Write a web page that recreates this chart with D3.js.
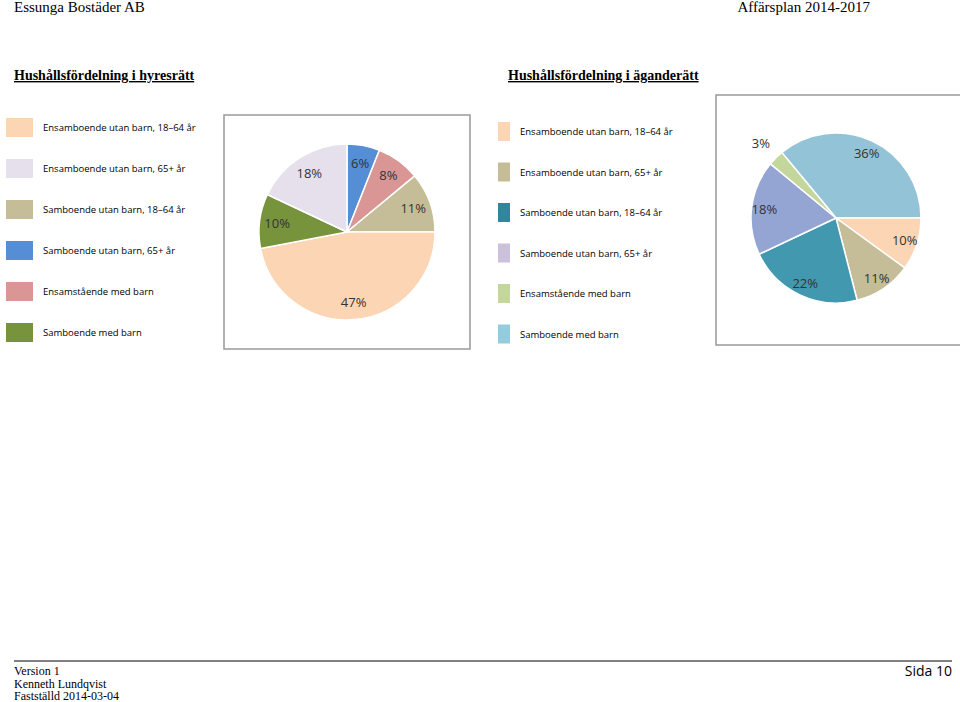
<!DOCTYPE html><html><head><meta charset="utf-8"><script src="https://cdn.jsdelivr.net/npm/d3@7"></script>
<style>body{margin:0;background:#fff}</style></head><body><svg id="c" width="960" height="702"></svg>
<script>
const leftCats=["Ensamboende utan barn, 18\u201364 år","Ensamboende utan barn, 65+ år","Samboende utan barn, 18\u201364 år","Samboende utan barn, 65+ år","Ensamstående med barn","Samboende med barn"];
const leftValues=[47,18,11,6,8,10];
const leftColors=["#FCD5B5","#E6E0EC","#C4BD97","#558ED5","#D99694","#77933C"];
const leftOrder=[3,4,2,0,5,1];
const rightCats=leftCats;
const rightValues=[10,11,22,18,3,36];
const rightColors=["#FCD5B5","#C4BD97","#31859C","#CCC1DA","#C3D69B","#93CDDD"];
const rightPieColors=["#FCD5B5","#C4BD97","#4198AF","#95A5D3","#C3D69B","#93C3D6"];
const rightOrder=[5,0,1,2,3,4];
const svg=d3.select("#c");
const T="'Liberation Serif',serif", S="'Open Sans','Liberation Sans',sans-serif";
svg.append("text").attr("x",14).attr("y",12).attr("font-family",T).attr("font-size",15).text("Essunga Bostäder AB");
svg.append("text").attr("x",870).attr("y",12).attr("text-anchor","end").attr("font-family",T).attr("font-size",15).text("Affärsplan 2014-2017");
svg.append("text").attr("x",14).attr("y",80).attr("font-family",T).attr("font-size",14).attr("font-weight","bold").attr("text-decoration","underline").text("Hushållsfördelning i hyresrätt");
svg.append("text").attr("x",508).attr("y",80).attr("font-family",T).attr("font-size",14).attr("font-weight","bold").attr("text-decoration","underline").text("Hushållsfördelning i äganderätt");
function legend(x,y0,step,cats,cols,sw){cats.forEach((c,i)=>{const y=y0+i*step;
 svg.append("rect").attr("x",x).attr("y",y-9).attr("width",sw).attr("height",19).attr("fill",cols[i]);
 svg.append("text").attr("x",x+sw+10).attr("y",y+4).attr("font-family",S).attr("font-size",9.5).text(c);});}
legend(6,127,41,leftCats,leftColors,27);
legend(498,131,40.5,rightCats,rightColors,12);
svg.append("rect").attr("x",224).attr("y",115).attr("width",246).attr("height",234).attr("fill","none").attr("stroke","#999").attr("stroke-width",1.5);
svg.append("rect").attr("x",716).attr("y",95).attr("width",246).attr("height",250).attr("fill","none").attr("stroke","#999").attr("stroke-width",1.5);
function pie(cx,cy,r,vals,cols,order,start,lf){
 const data=order.map(i=>({v:vals[i],c:cols[i]}));
 const arcs=d3.pie().value(d=>d.v).sort(null).startAngle(start).endAngle(start+2*Math.PI)(data);
 const g=svg.append("g").attr("transform",`translate(${cx},${cy})`);
 g.selectAll("path").data(arcs).join("path").attr("d",d3.arc().innerRadius(0).outerRadius(r)).attr("fill",d=>d.data.c).attr("stroke","#fff").attr("stroke-width",1.5);
 g.selectAll("text").data(arcs).join("text").each(function(d){const a=(d.startAngle+d.endAngle)/2;const k=d.data.v<5?1.25:lf;
  d3.select(this).attr("x",Math.sin(a)*r*k).attr("y",-Math.cos(a)*r*k+5);})
  .attr("text-anchor","middle").attr("font-family",S).attr("font-size",13).attr("fill","#333").text(d=>d.data.v+"%");
}
pie(347,232,88,leftValues,leftColors,leftOrder,0,0.8);
pie(836,218,85,rightValues,rightPieColors,rightOrder,-39.6*Math.PI/180,0.85);
svg.append("line").attr("x1",14).attr("x2",952).attr("y1",661).attr("y2",661).attr("stroke","#000");
["Version 1","Kenneth Lundqvist","Fastställd 2014-03-04"].forEach((t,i)=>svg.append("text").attr("x",14).attr("y",675+i*12.5).attr("font-family",T).attr("font-size",12).text(t));
svg.append("text").attr("x",952).attr("y",676).attr("text-anchor","end").attr("font-family",S).attr("font-size",14).text("Sida 10");
</script></body></html>
